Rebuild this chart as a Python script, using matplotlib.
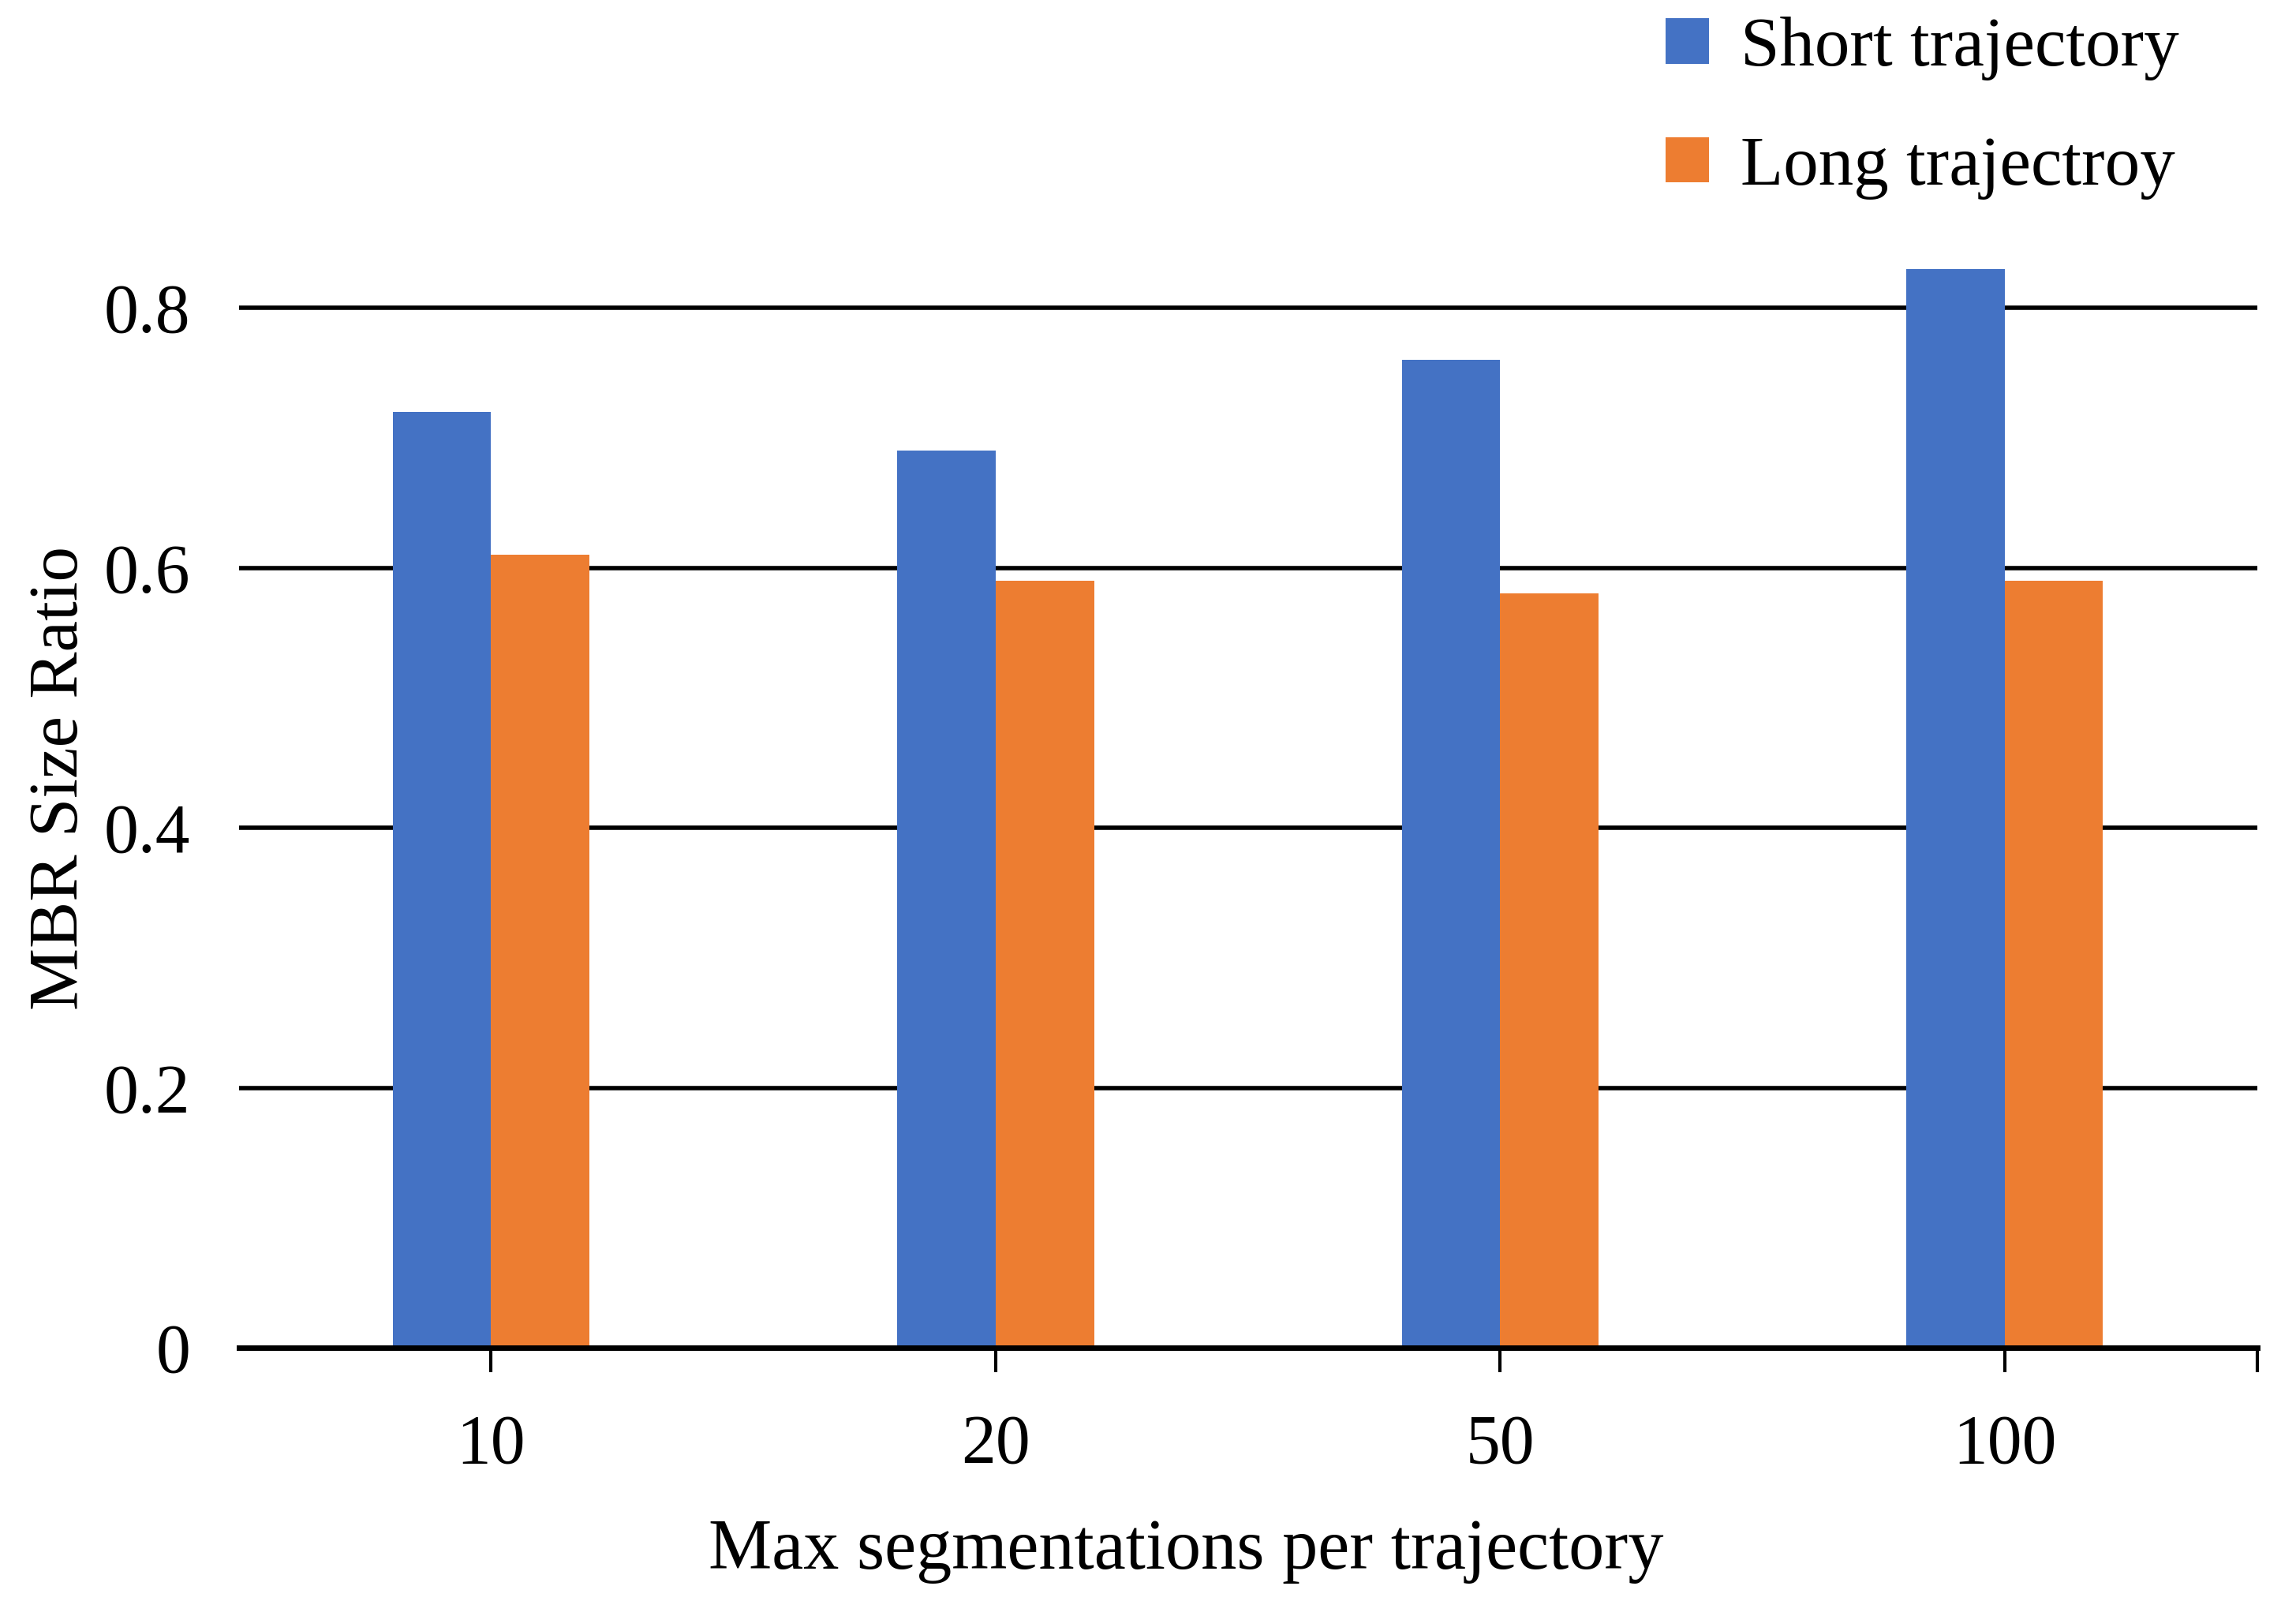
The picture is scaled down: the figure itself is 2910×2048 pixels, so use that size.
import numpy as np
import matplotlib.pyplot as plt

categories = ["10", "20", "50", "100"]
short_traj = [0.72, 0.69, 0.76, 0.83]
long_traj = [0.61, 0.59, 0.58, 0.59]
yticks = [0, 0.2, 0.4, 0.6, 0.8]
ytick_labels = ["0", "0.2", "0.4", "0.6", "0.8"]

plt.rcParams['font.family'] = ['Liberation Serif', 'DejaVu Serif']

fig = plt.figure(figsize=(29.1, 20.48), dpi=100)
ax = fig.add_axes([0.104, 0.166, 0.879, 0.724])

x = np.arange(len(categories))
w = 0.195
ax.bar(x - w / 2, short_traj, width=w, color='#4472C4', label='Short trajectory', zorder=3)
ax.bar(x + w / 2, long_traj, width=w, color='#ED7D31', label='Long trajectroy', zorder=3)

ax.set_xlim(-0.5, 3.5)
ax.set_ylim(0, 0.9)

# horizontal gridlines
for yv in yticks[1:]:
    ax.axhline(yv, color='black', lw=4, zorder=1)

for s in ['top', 'right', 'left']:
    ax.spines[s].set_visible(False)
ax.spines['bottom'].set_linewidth(5)
ax.spines['bottom'].set_zorder(4)

ax.set_yticks(yticks)
ax.set_yticklabels(ytick_labels, fontsize=63)
ax.tick_params(axis='y', length=0, pad=44)

ax.set_xticks(list(x) + [3.5])
ax.set_xticklabels(categories + [""], fontsize=63)
ax.tick_params(axis='x', direction='out', length=22, width=3, pad=38)

ax.set_xlabel("Max segmentations per trajectory", fontsize=65)
ax.xaxis.set_label_coords(0.4695, -0.146)
ax.set_ylabel("MBR Size Ratio", fontsize=64)
ax.yaxis.set_label_coords(-0.0725, 0.487)

fig.legend(loc='upper left', bbox_to_anchor=(0.704, 1.02), frameon=False,
           fontsize=64, handlelength=0.62, handleheight=0.62,
           handletextpad=0.45, labelspacing=0.78, borderpad=0.2)

plt.savefig("out.png", dpi=100)
plt.close()
